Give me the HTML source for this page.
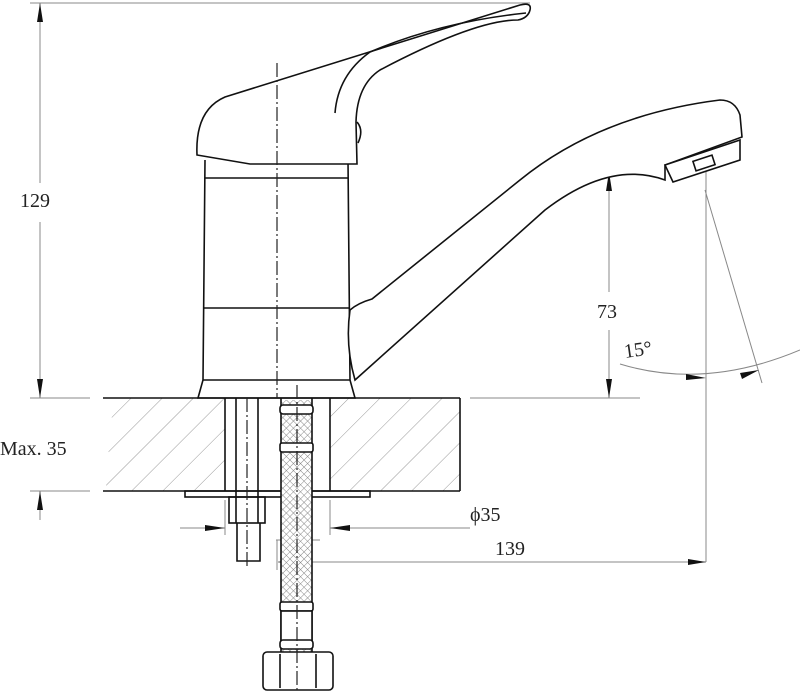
<!DOCTYPE html>
<html><head><meta charset="utf-8"><style>
html,body{margin:0;padding:0;background:#fff;width:800px;height:693px;overflow:hidden}
text{font-family:"Liberation Serif","Noto Serif CJK SC",serif;fill:#222}
</style></head><body>
<svg width="800" height="693" viewBox="0 0 800 693" xmlns="http://www.w3.org/2000/svg">
<defs>
<pattern id="h" width="22" height="22" patternUnits="userSpaceOnUse" patternTransform="rotate(45)">
<line x1="0" y1="0" x2="0" y2="22" stroke="#999" stroke-width="1"/></pattern>
<pattern id="m" width="5" height="5" patternUnits="userSpaceOnUse" patternTransform="rotate(45)">
<rect width="5" height="5" fill="#fff"/><line x1="0" y1="0" x2="0" y2="5" stroke="#888" stroke-width="1"/><line x1="0" y1="0" x2="5" y2="0" stroke="#888" stroke-width="1"/></pattern>
</defs>
<g fill="none" stroke="#888" stroke-width="1">
<line x1="30" y1="3" x2="530" y2="3"/>
<line x1="40" y1="3" x2="40" y2="183"/><line x1="40" y1="222" x2="40" y2="398"/>
<line x1="30" y1="398" x2="90" y2="398"/><line x1="30" y1="491" x2="90" y2="491"/>
<line x1="40" y1="380" x2="40" y2="398"/><line x1="40" y1="491" x2="40" y2="520"/>
<line x1="470" y1="398" x2="640" y2="398"/>
<line x1="600" y1="172" x2="660" y2="172"/>
<line x1="609" y1="172" x2="609" y2="292"/><line x1="609" y1="330" x2="609" y2="398"/>
<line x1="706" y1="120" x2="706" y2="562"/>
<line x1="705" y1="190" x2="762" y2="383"/>
<path d="M620 364 Q705 390 800 350"/>
<line x1="180" y1="528" x2="225" y2="528"/><line x1="330" y1="528" x2="470" y2="528"/>
<line x1="225" y1="500" x2="225" y2="535"/><line x1="330" y1="500" x2="330" y2="535"/>
<line x1="278" y1="562" x2="706" y2="562"/><line x1="277" y1="540" x2="277" y2="570"/>
<line x1="276" y1="540" x2="320" y2="540"/>
</g>
<g fill="#111">
<polygon points="40,3 37,22 43,22"/><polygon points="40,398 37,379 43,379"/>
<polygon points="40,491 37,510 43,510"/>
<polygon points="609,172 606,191 612,191"/><polygon points="609,398 606,379 612,379"/>
<polygon points="225,528 205,525 205,531"/><polygon points="330,528 350,525 350,531"/>
<polygon points="706,562 688,559 688,565"/><polygon points="278,562 298,559 298,565"/>
<polygon points="706,378 686,374 686,380"/><polygon points="759,370 740,373 742,379"/>
</g>
<g font-size="20">
<text x="20" y="207">129</text>
<text x="0" y="455">Max. 35</text>
<text x="597" y="318">73</text>
<text x="625" y="358" transform="rotate(-8 625 358)">15°</text>
<text x="470" y="521">ϕ35</text>
<text x="495" y="555">139</text>
</g>
<!-- countertop -->
<path d="M105 398 L225 398 L225 491 L105 491 Q112 460 108 450 Q118 420 105 398Z" fill="url(#h)" stroke="none"/>
<rect x="330" y="398" width="130" height="93" fill="url(#h)"/>
<g fill="none" stroke="#111" stroke-width="1.6">
<line x1="103" y1="398" x2="460" y2="398"/><line x1="103" y1="491" x2="460" y2="491"/>
<line x1="460" y1="398" x2="460" y2="491"/>
<line x1="225" y1="398" x2="225" y2="491"/><line x1="330" y1="398" x2="330" y2="491"/>
<rect x="185" y="491" width="185" height="6"/>
<line x1="236" y1="398" x2="236" y2="497"/><line x1="258" y1="398" x2="258" y2="497"/>
<rect x="229" y="497" width="36" height="26"/><line x1="236" y1="497" x2="236" y2="523"/><line x1="258" y1="497" x2="258" y2="523"/>
<path d="M237 523 L237 561 L260 561 L260 523"/>
<rect x="281" y="400" width="31" height="272" fill="url(#m)" stroke="none"/>
<line x1="281" y1="398" x2="281" y2="652"/><line x1="312" y1="398" x2="312" y2="652"/>
<rect x="280" y="405" width="33" height="9" rx="3" fill="#fff"/>
<rect x="280" y="443" width="33" height="9" rx="2" fill="#fff"/>
<rect x="281" y="452" width="31" height="0"/>
<rect x="280" y="602" width="33" height="9" rx="2" fill="#fff"/>
<rect x="281" y="611" width="31" height="30" fill="#fff"/>
<rect x="280" y="640" width="33" height="9" rx="3" fill="#fff"/>
<rect x="263" y="652" width="70" height="38" rx="4" fill="#fff"/>
<line x1="280" y1="654" x2="280" y2="688"/><line x1="316" y1="654" x2="316" y2="688"/>
<!-- body -->
<path d="M205 160 L203 380 L198 398 L355 398 L350 380 L348 160"/>
<line x1="205" y1="178" x2="348" y2="178"/>
<line x1="203" y1="308" x2="350" y2="308"/>
<line x1="203" y1="380" x2="350" y2="380"/>
<!-- handle -->
<path d="M197 155 Q195 110 225 97 L520 5 Q532 2 530 10 Q528 18 518 20 Q475 20 380 70 Q357 85 356 122 L357 164 L250 164 L197 155Z" fill="#fff"/>
<path d="M335 113 Q338 75 370 52 Q440 22 526 13"/>
<path d="M357 122 Q364 130 358 143"/>
<!-- spout -->
<path d="M350 310 Q358 303 372 299 L520 180 Q600 115 720 100 Q735 100 740 115 L742 137 L665 165 L665 180 Q610 160 545 210 L355 380 Q345 345 350 310Z" fill="#fff"/>
<path d="M665 165 L740 140 L740 160 L673 182 Z" fill="#fff"/>
<rect x="694" y="158" width="20" height="10" transform="rotate(-18 704 163)"/>
</g>
<g stroke="#222" stroke-width="1.2" stroke-dasharray="14,3,2,3" fill="none">
<line x1="277" y1="63" x2="277" y2="398"/>
<line x1="247" y1="398" x2="247" y2="568"/>
<line x1="297" y1="385" x2="297" y2="693"/>
</g>
</svg>
</body></html>
